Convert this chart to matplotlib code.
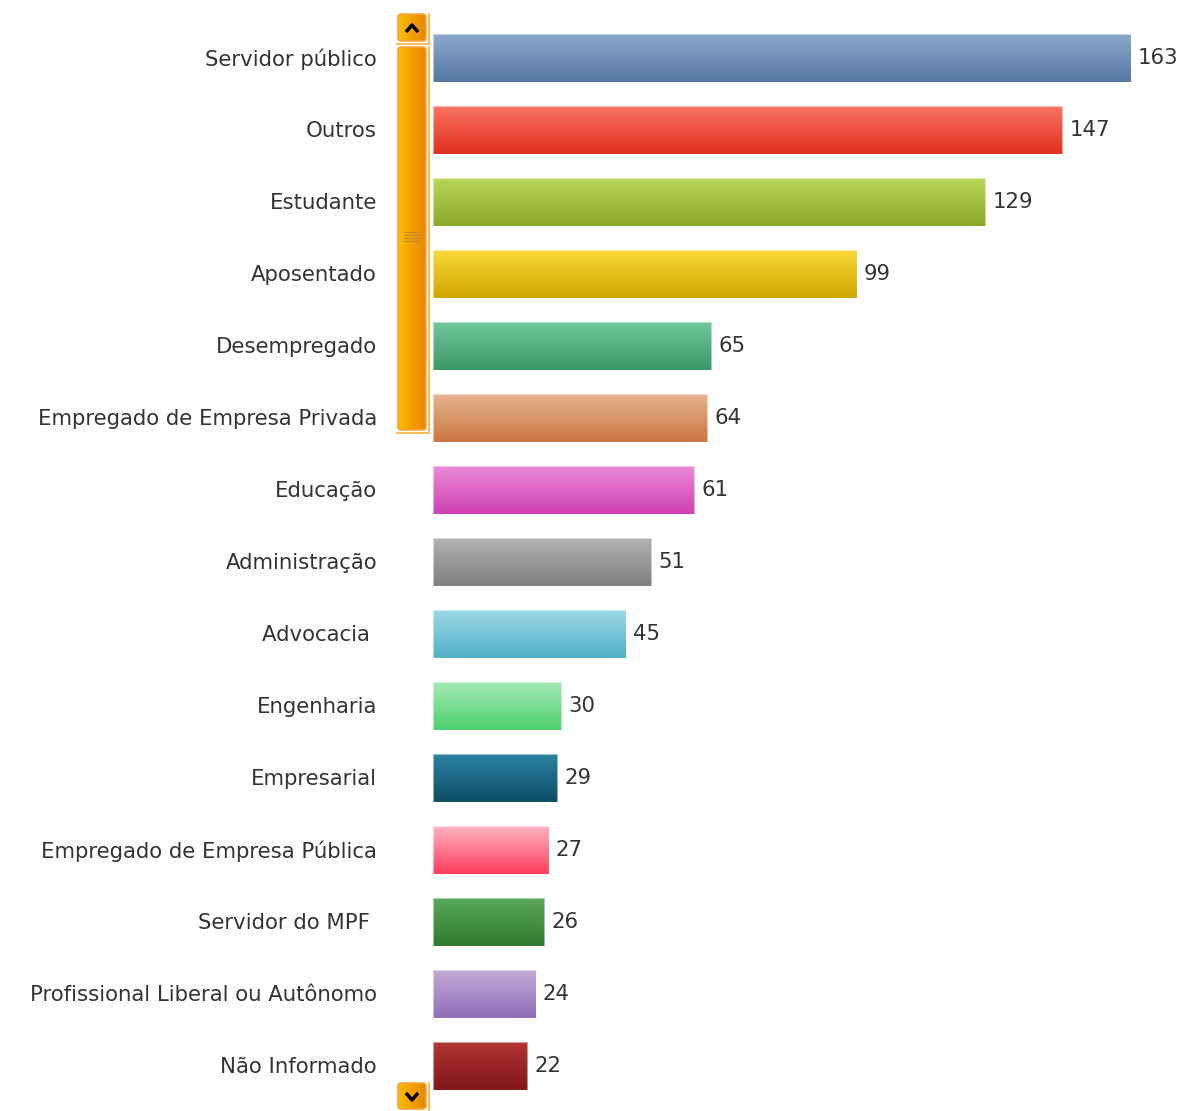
import numpy as np
import matplotlib
matplotlib.use("Agg")
import matplotlib.pyplot as plt
from matplotlib.colors import LinearSegmentedColormap
from matplotlib.patches import FancyBboxPatch, Rectangle

categories = ["Servidor público", "Outros", "Estudante", "Aposentado", "Desempregado",
              "Empregado de Empresa Privada", "Educação", "Administração", "Advocacia ",
              "Engenharia", "Empresarial", "Empregado de Empresa Pública", "Servidor do MPF ",
              "Profissional Liberal ou Autônomo", "Não Informado"]
values = [163, 147, 129, 99, 65, 64, 61, 51, 45, 30, 29, 27, 26, 24, 22]
top_colors = ["#8aa8cc", "#f87462", "#b8d858", "#f8d838", "#70c89c", "#e6b490", "#e88ad8",
              "#b2b2b2", "#9cd8e6", "#a4eab4", "#2a82a2", "#ffb4c4", "#5aaa5a", "#c2aad8", "#b23434"]
bot_colors = ["#5577a3", "#e02e1e", "#88a828", "#d0a600", "#3a9868", "#cc7640", "#d040b0",
              "#7e7e7e", "#50b0c8", "#4ed06e", "#0e4e66", "#ff3c5c", "#2e7a2e", "#8e6eb8", "#801818"]

W, H = 1184, 1111
fig = plt.figure(figsize=(W / 100, H / 100), dpi=100)
fig.patch.set_facecolor("white")

x0 = 433
px_per_unit = (1131 - x0) / 163.0
ax = fig.add_axes([x0 / W, 0, 1 - x0 / W, 1])
ax.set_xlim(0, (W - x0) / px_per_unit)
ax.set_ylim((H - 58) / 72.0, -58 / 72.0)
ax.axis("off")

FS = 15.3
TXT = "#333333"
bh = 0.655
grad = np.linspace(0, 1, 256).reshape(-1, 1)
for i, (v, c1, c2) in enumerate(zip(values, top_colors, bot_colors)):
    cmap = LinearSegmentedColormap.from_list("g%d" % i, [c1, c2])
    ax.imshow(grad, cmap=cmap, aspect="auto", extent=(0, v, i + bh / 2, i - bh / 2),
              interpolation="bilinear", zorder=2)
    ax.add_patch(Rectangle((0, i - bh / 2), v, bh, fill=False, edgecolor=(1, 1, 1, 0.5),
                           lw=0.8, zorder=3))
    ax.text(v + 7 / px_per_unit, i + 0.0, str(v), ha="left", va="center",
            fontsize=FS, color=TXT, zorder=4)
ax.set_xlim(0, (W - x0) / px_per_unit)
ax.set_ylim((H - 58) / 72.0, -58 / 72.0)

# overlay axes in pixel coordinates for labels and scrollbar
ov = fig.add_axes([0, 0, 1, 1], zorder=-1)
ov.set_xlim(0, W)
ov.set_ylim(H, 0)
ov.axis("off")

for i, cat in enumerate(categories):
    ov.text(377, 59 + 72 * i, cat, ha="right", va="center", fontsize=FS, color=TXT)

# scrollbar decoration
ov2 = fig.add_axes([0, 0, 1, 1], zorder=5)
ov2.set_xlim(0, W)
ov2.set_ylim(H, 0)
ov2.axis("off")
ov2.patch.set_alpha(0)
hgrad = np.linspace(0, 1, 64).reshape(1, -1)
ocmap = LinearSegmentedColormap.from_list("orange", ["#fbbc00", "#e88600"])
for (ya, yb) in [(47, 430), (14, 41), (1083, 1109)]:
    ov2.plot([397, 428.5, 428.5], [yb + 2.5, yb + 2.5, ya], color="#f9b84a", lw=1.3)
    im = ov2.imshow(hgrad, cmap=ocmap, aspect="auto", extent=(398, 426, yb, ya),
                    interpolation="bilinear")
    p = FancyBboxPatch((398, ya), 28, yb - ya, boxstyle="round,pad=0,rounding_size=3",
                       facecolor="none", edgecolor="#f3a640", lw=1.2)
    ov2.add_patch(p)
    im.set_clip_path(p)
ov2.plot([406, 412, 418], [32, 25, 32], color="black", lw=2.5, solid_capstyle="butt")
ov2.plot([406, 412, 418], [1093, 1100, 1093], color="black", lw=2.5, solid_capstyle="butt")
for yy in [232, 235, 238, 241]:
    ov2.plot([404, 420], [yy, yy], color="#c88a30", lw=0.8)
ov2.set_xlim(0, W)
ov2.set_ylim(H, 0)

fig.savefig("out.png", dpi=100, facecolor="white")
